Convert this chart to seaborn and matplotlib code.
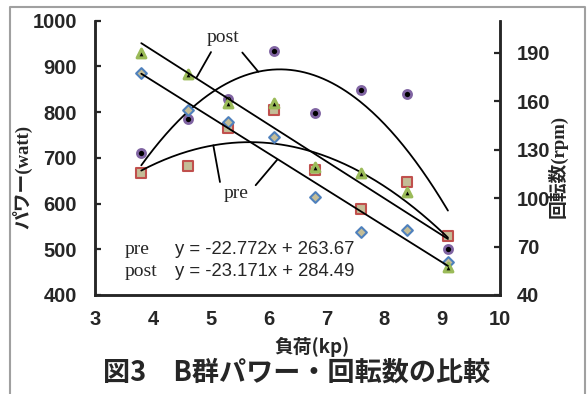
import numpy as np
import pandas as pd
import matplotlib
matplotlib.use('Agg')
import matplotlib.pyplot as plt
import seaborn as sns

# values
load = [3.8, 4.6, 5.3, 6.1, 6.8, 7.6, 8.4, 9.1]
power_pre = [667, 683, 764, 804, 673, 587, 648, 529]
power_post = [711, 785, 828, 934, 797, 847, 839, 500]
rpm_pre = [177.6, 154.6, 147.3, 137.6, 100.9, 79.2, 80.2, 60.6]
rpm_post = [189.7, 176.8, 159.0, 159.0, 119.0, 115.7, 104.0, 57.2]

x_ticks = [3, 4, 5, 6, 7, 8, 9, 10]
power_ticks = [400, 500, 600, 700, 800, 900, 1000]
rpm_ticks = [40, 70, 100, 130, 160, 190]

eq_labels = ['pre', 'post']
eq_texts = ['y = -22.772x + 263.67', 'y = -23.171x + 284.49']

sns.set_style('white')
plt.rcParams['font.family'] = ['Liberation Sans', 'Noto Sans CJK JP']
plt.rcParams['axes.linewidth'] = 1.8

purple = '#8064A2'
red = '#C0504D'
tan = '#C4BD97'
blue = '#4F81BD'
green = '#9BBB59'

fig = plt.figure(figsize=(5.87, 3.94), dpi=100)
ax = fig.add_axes([95 / 587, 1 - 295 / 394, 405 / 587, 274.5 / 394])
ax2 = ax.twinx()

df = pd.DataFrame({'load': load, 'power_pre': power_pre, 'power_post': power_post,
                   'rpm_pre': rpm_pre, 'rpm_post': rpm_post})

# markers
sns.scatterplot(data=df, x='load', y='power_post', ax=ax, marker='o', s=34,
                color='black', edgecolor=purple, linewidth=2.0, zorder=2)
sns.scatterplot(data=df, x='load', y='power_pre', ax=ax, marker='s', s=46,
                color=tan, edgecolor=red, linewidth=1.5, zorder=2)
sns.scatterplot(data=df, x='load', y='rpm_pre', ax=ax2, marker='D', s=30,
                color=tan, edgecolor=blue, linewidth=1.5, zorder=2)
sns.scatterplot(data=df, x='load', y='rpm_post', ax=ax2, marker='^', s=40,
                color='black', edgecolor=green, linewidth=2.2, zorder=2)

# trend lines
xs = np.linspace(min(load), max(load), 200)
for col in ['power_pre', 'power_post']:
    c = np.polyfit(df['load'], df[col], 2)
    sns.lineplot(x=xs, y=np.polyval(c, xs), ax=ax, color='black', lw=1.3, zorder=3)
for col in ['rpm_pre', 'rpm_post']:
    c = np.polyfit(df['load'], df[col], 1)
    sns.lineplot(x=xs, y=np.polyval(c, xs), ax=ax2, color='black', lw=1.3, zorder=3)

ax.set_xlim(3, 10)
ax.set_ylim(400, 1000)
ax2.set_ylim(40, 210)
ax.set_xticks(x_ticks)
ax.set_yticks(power_ticks)
ax2.set_yticks(rpm_ticks)
ax.set_xlabel('')
ax.set_ylabel('')
ax2.set_ylabel('')

for a in (ax, ax2):
    a.spines['top'].set_visible(False)
    a.tick_params(direction='in', length=4, width=1.6, labelsize=14.5)
    for lab in a.get_xticklabels() + a.get_yticklabels():
        lab.set_fontweight('bold')
ax.tick_params(axis='y', pad=13)
ax.tick_params(axis='x', pad=11)
ax2.tick_params(axis='y', pad=12)
ax.patch.set_alpha(0)

# curve labels with leader lines
serif = ['Liberation Serif', 'Noto Sans CJK JP']
ax.text(5.21, 963, 'post', family=serif, fontsize=14, ha='center', va='center')
ax.text(5.43, 622, 'pre', family=serif, fontsize=14, ha='center', va='center')
leaders = [((5.005, 931), (4.758, 876)), ((5.546, 930), (5.822, 888)),
           ((5.045, 727), (5.16, 647)), ((6.151, 696), (5.777, 640))]
for (x0, y0), (x1, y1) in leaders:
    ax.plot([x0, x1], [y0, y1], color='black', lw=1.3)

# equations
for i, (lab, txt) in enumerate(zip(eq_labels, eq_texts)):
    ypix = 249 + i * 23
    fig.text(125 / 587, 1 - ypix / 394, lab, family=serif, fontsize=14, va='center')
    fig.text(175 / 587, 1 - ypix / 394, txt, fontsize=13.3, va='center')

jp = ['Liberation Serif', 'Noto Sans CJK JP']
fig.text(22 / 587, 1 - 177 / 394, 'パワー(watt)', family=jp, fontsize=13.5,
         fontweight='bold', rotation=90, ha='center', va='center')
fig.text(558 / 587, 1 - 166 / 394, '回転数(rpm)', family=jp, fontsize=13.5,
         fontweight='bold', rotation=90, ha='center', va='center')
fig.text(312 / 587, 1 - 347 / 394, '負荷(kp)', family=['Noto Sans CJK JP'], fontsize=13.5,
         fontweight='bold', ha='center', va='center')
fig.text(297 / 587, 1 - 373 / 394, '図3　B群パワー・回転数の比較', family=['Noto Sans CJK JP'],
         fontsize=19.5, fontweight='bold', ha='center', va='center')

# outer frame
frame_x = [10 / 587, 10 / 587, 585 / 587, 585 / 587]
frame_y = [0, 1 - 7 / 394, 1 - 7 / 394, 0]
fig.add_artist(plt.Line2D(frame_x, frame_y, color='#A0A0A0', lw=1.5))

fig.savefig('out.png', dpi=100)
